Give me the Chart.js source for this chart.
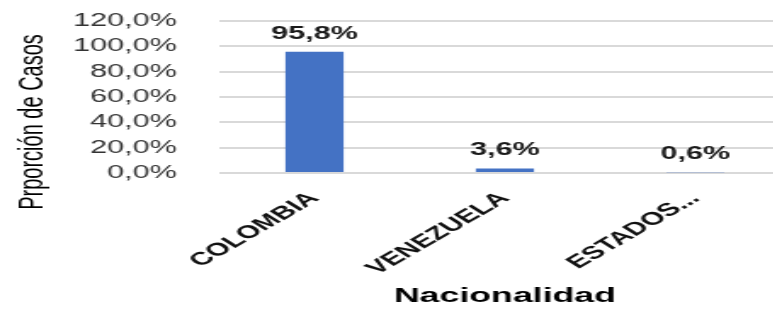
<!DOCTYPE html>
<html><head><meta charset="utf-8">
<script src="https://cdn.jsdelivr.net/npm/chart.js@4.4.0/dist/chart.umd.min.js"></script>
<style>
html,body{margin:0;padding:0;background:#fff;overflow:hidden;width:773px;height:309px;}
#wrap{position:absolute;left:0;top:0;width:465px;height:309px;transform:scaleX(1.7);transform-origin:0 0;}
</style></head><body>
<div id="wrap"><canvas id="c" width="465" height="309"></canvas></div>
<script>
const categories = ['COLOMBIA', 'VENEZUELA', 'ESTADOS...'];
const values = [95.8, 3.6, 0.6];
const yMin = 0, yMax = 120, yStep = 20;
const xTitle = 'Nacionalidad';
const yTitle = 'Prporción de Casos';

const FONT = '"Liberation Sans", Arial, sans-serif';
const fmt = v => Number(v).toFixed(1).replace('.', ',') + '%';

const valueLabels = {
  id: 'valueLabels',
  afterDatasetsDraw(chart) {
    const ctx = chart.ctx;
    const meta = chart.getDatasetMeta(0);
    ctx.save();
    ctx.font = 'bold 18px ' + FONT;
    ctx.fillStyle = '#1a1a1a';
    ctx.textAlign = 'center';
    ctx.textBaseline = 'alphabetic';
    meta.data.forEach((bar, i) => {
      ctx.fillText(fmt(values[i]), bar.x, bar.y - 13);
    });
    ctx.restore();
  }
};

const yTitlePlugin = {
  id: 'yTitlePlugin',
  afterDraw(chart) {
    const ctx = chart.ctx;
    const a = chart.chartArea;
    ctx.save();
    ctx.translate(19, (a.top + a.bottom) / 2 + 25);
    ctx.rotate(-Math.PI / 2);
    ctx.font = '20px ' + FONT;
    ctx.fillStyle = '#000';
    ctx.textAlign = 'center';
    ctx.textBaseline = 'middle';
    ctx.fillText(yTitle, 0, 0);
    ctx.restore();
  }
};

new Chart(document.getElementById('c'), {
  type: 'bar',
  data: {
    labels: categories,
    datasets: [{
      data: values,
      backgroundColor: '#4472C4',
      barPercentage: 0.305,
      categoryPercentage: 1
    }]
  },
  options: {
    responsive: false,
    maintainAspectRatio: false,
    animation: false,
    devicePixelRatio: 1,
    layout: { padding: { top: 21, left: 0, right: 0, bottom: 0 } },
    plugins: { legend: { display: false }, tooltip: { enabled: false } },
    scales: {
      y: {
        min: yMin, max: yMax,
        ticks: { stepSize: yStep, autoSkip: false, callback: v => fmt(v), font: { size: 18, family: FONT }, color: '#333333', padding: 3 },
        grid: { color: '#d9d9d9', lineWidth: 2, drawTicks: true, tickLength: 22, tickColor: 'rgba(0,0,0,0)' },
        border: { display: false },
        afterFit(scale) { scale.width = 129; }
      },
      x: {
        grid: { display: false, drawTicks: false },
        border: { display: false },
        ticks: { font: { size: 18, weight: 'bold', family: FONT }, color: '#111', minRotation: 44, maxRotation: 44, padding: 15 },
        title: { display: true, text: xTitle, font: { size: 21, weight: 'bold', family: FONT }, color: '#000', padding: { top: 4, bottom: 0 } },
        afterFit(scale) { scale.height = 136; }
      }
    }
  },
  plugins: [valueLabels, yTitlePlugin]
});
</script>
</body></html>
